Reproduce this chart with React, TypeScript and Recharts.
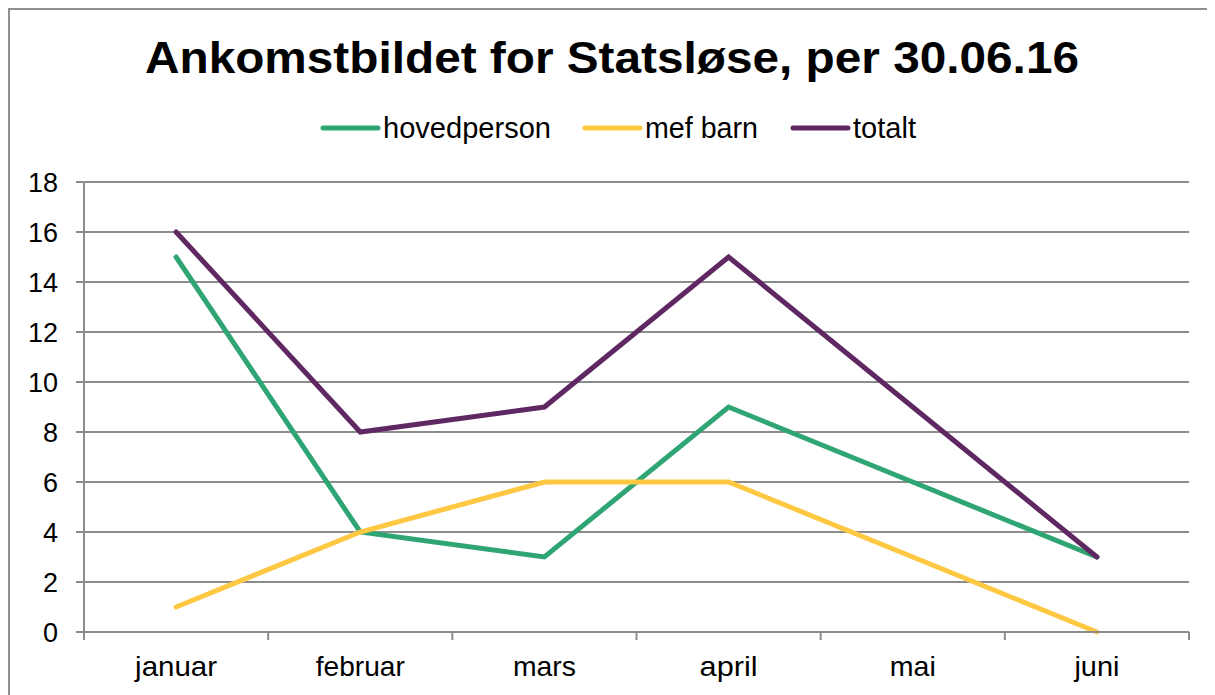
import React from "react";
import { LineChart, Line, XAxis, YAxis, CartesianGrid, Legend } from "recharts";

const categories = ["januar", "februar", "mars", "april", "mai", "juni"];
const hovedperson = [15, 4, 3, 9, 6, 3];
const mefBarn = [1, 4, 6, 6, 3, 0];
const totalt = [16, 8, 9, 15, 9, 3];
const yTicks = [0, 2, 4, 6, 8, 10, 12, 14, 16, 18];
const seriesNames = ["hovedperson", "mef barn", "totalt"];
const seriesColors = ["#2fa574", "#fec843", "#5f2862"];
const titleText = "Ankomstbildet for Statsløse, per 30.06.16";

const data = categories.map((c, i) => ({
  name: c,
  hovedperson: hovedperson[i],
  mefBarn: mefBarn[i],
  totalt: totalt[i],
}));

const FONT = "'Liberation Sans', Arial, sans-serif";
const GRID = "#8c8c8c";

const CW = 1205;
const CH = 685;
const PLOT_LEFT = 74;
const PLOT_RIGHT = 1179;
const PLOT_TOP = 172;
const PLOT_BOTTOM = 622;
const BAND = (PLOT_RIGHT - PLOT_LEFT) / categories.length;

const labelWidths: Record<string, number> = {
  januar: 82,
  februar: 89,
  mars: 63,
  april: 58,
  mai: 46,
  juni: 45,
};

const XTick = (props: any) => {
  const { x, payload, index } = props;
  const w = labelWidths[payload.value];
  return (
    <g>
      <line x1={x - BAND / 2} x2={x - BAND / 2} y1={PLOT_BOTTOM} y2={PLOT_BOTTOM + 8} stroke={GRID} strokeWidth={2} />
      {index === categories.length - 1 && (
        <line x1={x + BAND / 2} x2={x + BAND / 2} y1={PLOT_BOTTOM} y2={PLOT_BOTTOM + 8} stroke={GRID} strokeWidth={2} />
      )}
      <text
        x={x}
        y={PLOT_BOTTOM + 44}
        textAnchor="middle"
        fontFamily={FONT}
        fontSize={28}
        fill="#000"
        textLength={w}
        lengthAdjust="spacingAndGlyphs"
      >
        {payload.value}
      </text>
    </g>
  );
};

const YTick = (props: any) => {
  const { y, payload } = props;
  return (
    <text x={48} y={y} dy={9.5} textAnchor="end" fontFamily={FONT} fontSize={27} fill="#000">
      {payload.value}
    </text>
  );
};

const legendTextWidths = [168, 113, 63];
const legendX = [313, 575, 783];

const LegendContent = () => (
  <svg width={CW} height={40} style={{ display: "block" }}>
    {seriesNames.map((n, i) => (
      <g key={n}>
        <line x1={legendX[i]} x2={legendX[i] + 55} y1={20} y2={20} stroke={seriesColors[i]} strokeWidth={5} strokeLinecap="round" />
        <text
          x={legendX[i] + 60}
          y={30}
          fontFamily={FONT}
          fontSize={29}
          fill="#000"
          textLength={legendTextWidths[i]}
          lengthAdjust="spacingAndGlyphs"
        >
          {n}
        </text>
      </g>
    ))}
  </svg>
);

export default function App() {
  return (
    <>
      <style>{"html, body { overflow: hidden; }"}</style>
      <div
        style={{
          position: "relative",
          width: 1207,
          height: 695,
          borderTop: "2px solid #8f8f8f",
          borderLeft: "2px solid #8f8f8f",
          boxSizing: "border-box",
          background: "#fff",
          overflow: "hidden",
        }}
      >
        <svg width={CW} height={80} style={{ position: "absolute", left: 0, top: 0 }}>
          <text
            x={602}
            y={63}
            textAnchor="middle"
            fontFamily={FONT}
            fontWeight="bold"
            fontSize={44}
            fill="#000"
            textLength={934}
            lengthAdjust="spacingAndGlyphs"
          >
            {titleText}
          </text>
        </svg>
        <LineChart
          width={CW}
          height={CH}
          data={data}
          margin={{ top: PLOT_TOP, right: CW - PLOT_RIGHT, left: 0, bottom: 0 }}
        >
          <CartesianGrid vertical={false} stroke={GRID} strokeWidth={2} />
          <XAxis
            dataKey="name"
            scale="band"
            height={CH - PLOT_BOTTOM}
            tickLine={false}
            axisLine={{ stroke: GRID, strokeWidth: 2 }}
            tick={<XTick />}
            interval={0}
          />
          <YAxis
            width={PLOT_LEFT}
            domain={[0, 18]}
            ticks={yTicks}
            interval={0}
            tickSize={8}
            tickLine={{ stroke: GRID, strokeWidth: 2 }}
            axisLine={{ stroke: GRID, strokeWidth: 2 }}
            tick={<YTick />}
          />
          <Legend
            layout="horizontal"
            verticalAlign="middle"
            align="center"
            wrapperStyle={{ position: "absolute", top: 98, left: 0, width: CW, height: 40 }}
            content={<LegendContent />}
          />
          <Line type="linear" dataKey="hovedperson" stroke={seriesColors[0]} strokeWidth={5} dot={false} strokeLinecap="round" isAnimationActive={false} />
          <Line type="linear" dataKey="mefBarn" stroke={seriesColors[1]} strokeWidth={5} dot={false} strokeLinecap="round" isAnimationActive={false} />
          <Line type="linear" dataKey="totalt" stroke={seriesColors[2]} strokeWidth={5} dot={false} strokeLinecap="round" isAnimationActive={false} />
        </LineChart>
      </div>
    </>
  );
}
